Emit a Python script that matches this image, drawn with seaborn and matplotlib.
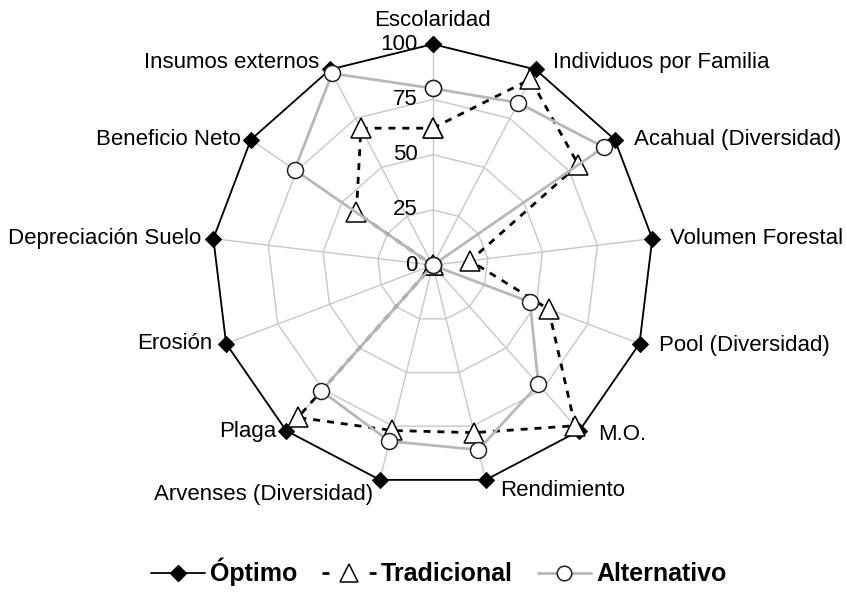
import numpy as np
import matplotlib
matplotlib.use("Agg")
import matplotlib.pyplot as plt
import seaborn as sns
from matplotlib.lines import Line2D

categories = ['Escolaridad', 'Individuos por Familia', 'Acahual (Diversidad)', 'Volumen Forestal',
              'Pool (Diversidad)', 'M.O.', 'Rendimiento', 'Arvenses (Diversidad)', 'Plaga',
              'Erosión', 'Depreciación Suelo', 'Beneficio Neto', 'Insumos externos']
optimo = [100, 100, 100, 100, 100, 100, 100, 100, 100, 100, 100, 100, 100]
tradicional = [62, 95, 80, 17, 56, 97, 78, 77, 92, 0, 0, 42, 70]
alternativo = [80, 83, 94, 0, 47, 72, 86, 82, 76, 0, 0, 76, 98]
ring_levels = [25, 50, 75, 100]
ring_labels = ['0', '25', '50', '75', '100']

sns.set_theme(style="white")
plt.rcParams['font.family'] = ['Liberation Sans', 'DejaVu Sans']
plt.rcParams['text.color'] = 'black'

n = len(categories)
theta = np.arange(n) * 2 * np.pi / n
theta_c = np.append(theta, 2 * np.pi)

def close(v):
    return np.append(v, v[0])

fig = plt.figure(figsize=(8.47, 5.96), dpi=100)
ax = fig.add_axes([0.250, 0.184, 0.522, 0.742], projection='polar')
ax.set_theta_zero_location('N')
ax.set_theta_direction(-1)
ax.set_ylim(0, 100)
ax.grid(False)
ax.spines['polar'].set_visible(False)
ax.set_xticks([])
ax.set_yticks([])
ax.patch.set_alpha(0)

# polygon grid + spokes
grid_c = '#c8c8c8'
for lv in ring_levels:
    ax.plot(theta_c, [lv] * (n + 1), color=grid_c, lw=1, zorder=1)
for t in theta:
    ax.plot([t, t], [0, 100], color=grid_c, lw=1, zorder=1)

sns.lineplot(x=theta_c, y=close(optimo), ax=ax, sort=False, estimator=None,
             color='black', lw=1.3, marker='D', markersize=8.5, clip_on=False,
             markerfacecolor='black', markeredgecolor='black', zorder=3)
sns.lineplot(x=theta_c, y=close(tradicional), ax=ax, sort=False, estimator=None,
             color='black', lw=2, linestyle=(0, (2.5, 2.5)), marker='^', markersize=15,
             clip_on=False, markerfacecolor='white', markeredgecolor='black',
             markeredgewidth=1.1, zorder=4)
sns.lineplot(x=theta_c, y=close(alternativo), ax=ax, sort=False, estimator=None,
             color='#b8b8b8', lw=2, marker='o', markersize=11.5, clip_on=False,
             markerfacecolor='white', markeredgecolor='#222222', markeredgewidth=1.1, zorder=5)
ax.set_xlabel('')
ax.set_ylabel('')

# radial tick labels
for lab, r in zip(ring_labels, [0] + ring_levels):
    ax.annotate(lab, xy=(0, r), xytext=(-15, 0), textcoords='offset pixels', color='black',
                ha='right', va='center', fontsize=16, annotation_clip=False, zorder=6)

# category labels
offsets = [(0, 24, 'center'), (17, 7, 'left'), (19, 0, 'left'), (18, 0, 'left'),
           (19, -2, 'left'), (19, -4, 'left'), (14, -11, 'left'), (-7, -15, 'right'),
           (-10, -1, 'right'), (-14, 0, 'right'), (-12, 0, 'right'), (-10, 0, 'right'),
           (-11, 7, 'right')]
for t, lab, (dx, dy, ha) in zip(theta, categories, offsets):
    ax.annotate(lab, xy=(t, 100), xytext=(dx, dy), textcoords='offset pixels', color='black',
                ha=ha, va='center', fontsize=16, annotation_clip=False)

handles = [
    Line2D([], [], color='black', lw=1.3, marker='D', markersize=8.5),
    Line2D([], [], color='black', lw=2, linestyle=(0, (2.5, 6)), marker='^', markersize=13,
           markerfacecolor='white', markeredgecolor='black', markeredgewidth=1.1),
    Line2D([], [], color='#b8b8b8', lw=2, marker='o', markersize=10.5,
           markerfacecolor='white', markeredgecolor='#222222', markeredgewidth=1.1),
]
leg = fig.legend(handles, ['Óptimo', 'Tradicional', 'Alternativo'], loc='center',
                 bbox_to_anchor=(0.518, 0.04), ncol=3, frameon=False,
                 prop={'weight': 'bold', 'size': 18}, handlelength=2.15,
                 handletextpad=0.2, columnspacing=1.0)
for txt in leg.get_texts():
    txt.set_color('black')

fig.savefig('out.png', dpi=100)
